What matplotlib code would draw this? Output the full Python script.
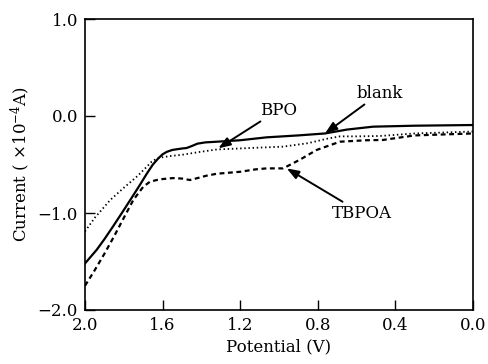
import matplotlib
matplotlib.use("Agg")
import matplotlib.pyplot as plt

plt.rcParams['font.family'] = ['DejaVu Serif']
plt.rcParams['mathtext.fontset'] = 'dejavuserif'

# blank (solid)
blank_x = [2.0, 1.94, 1.90, 1.856, 1.81, 1.768, 1.72, 1.68, 1.65, 1.622, 1.60, 1.579, 1.55, 1.50, 1.476, 1.45, 1.42, 1.38, 1.32, 1.20, 1.064, 0.90, 0.763, 0.65, 0.515, 0.30, 0.0]
blank_y = [-1.52, -1.38, -1.27, -1.14, -1.00, -0.87, -0.72, -0.59, -0.50, -0.436, -0.395, -0.37, -0.35, -0.335, -0.33, -0.31, -0.285, -0.272, -0.265, -0.25, -0.22, -0.20, -0.18, -0.14, -0.11, -0.10, -0.093]

# BPO (dotted)
bpo_x = [2.0, 1.95, 1.87, 1.80, 1.73, 1.68, 1.656, 1.63, 1.60, 1.55, 1.50, 1.407, 1.32, 1.15, 0.979, 0.85, 0.754, 0.686, 0.60, 0.479, 0.30, 0.0]
bpo_y = [-1.19, -1.05, -0.866, -0.74, -0.62, -0.52, -0.47, -0.44, -0.425, -0.41, -0.40, -0.37, -0.345, -0.33, -0.316, -0.28, -0.235, -0.21, -0.21, -0.206, -0.18, -0.16]

# TBPOA (dashed)
tbpoa_x = [2.0, 1.95, 1.90, 1.85, 1.80, 1.751, 1.70, 1.68, 1.665, 1.63, 1.60, 1.546, 1.50, 1.459, 1.42, 1.373, 1.32, 1.20, 1.12, 1.064, 0.979, 0.94, 0.892, 0.806, 0.686, 0.55, 0.464, 0.30, 0.0]
tbpoa_y = [-1.75, -1.59, -1.42, -1.24, -1.05, -0.866, -0.73, -0.70, -0.677, -0.66, -0.65, -0.64, -0.645, -0.66, -0.64, -0.615, -0.595, -0.575, -0.55, -0.54, -0.54, -0.50, -0.45, -0.35, -0.265, -0.25, -0.247, -0.20, -0.18]

xticks = [2.0, 1.6, 1.2, 0.8, 0.4, 0.0]
yticks = [1.0, 0.0, -1.0, -2.0]

fig = plt.figure(figsize=(4.89, 3.64), dpi=100)
ax = fig.add_axes([85/489, 1-310/364, (473-85)/489, (310-19)/364])

ax.plot(blank_x, blank_y, color='black', lw=1.6, ls='-')
ax.plot(bpo_x, bpo_y, color='black', lw=1.3, ls=(0, (0.8, 1.5)))
ax.plot(tbpoa_x, tbpoa_y, color='black', lw=1.6, ls=(0, (2.2, 1.6)))

ax.set_xlim(2.0, 0.0)
ax.set_ylim(-2.0, 1.0)
ax.set_xticks(xticks)
ax.set_yticks(yticks)
ax.set_xticklabels([f"{v:.1f}" for v in xticks])
ax.set_yticklabels([f"{v:.1f}".replace('-', '\u2212') for v in yticks])
ax.tick_params(direction='in', length=7, width=1, labelsize=12, top=False, right=False, pad=5)
for s in ax.spines.values():
    s.set_linewidth(1.2)

ax.set_xlabel('Potential (V)', fontsize=12, labelpad=3)
ax.set_ylabel(r'Current ( $\times$10$^{-4}$A)', fontsize=12, labelpad=4)

ap = dict(arrowstyle='-|>,head_length=0.6,head_width=0.22', color='black', lw=1.4, mutation_scale=12, shrinkA=0, shrinkB=0)
ax.annotate('blank', xy=(0.763, -0.18), xytext=(0.60, 0.235), fontsize=12,
            ha='left', va='center', arrowprops=ap)
ax.annotate('BPO', xy=(1.313, -0.333), xytext=(1.10, 0.06), fontsize=12,
            ha='left', va='center', arrowprops=ap)
ax.annotate('TBPOA', xy=(0.96, -0.54), xytext=(0.73, -1.0), fontsize=12,
            ha='left', va='center', arrowprops=ap)

fig.savefig('out.png', dpi=100)
